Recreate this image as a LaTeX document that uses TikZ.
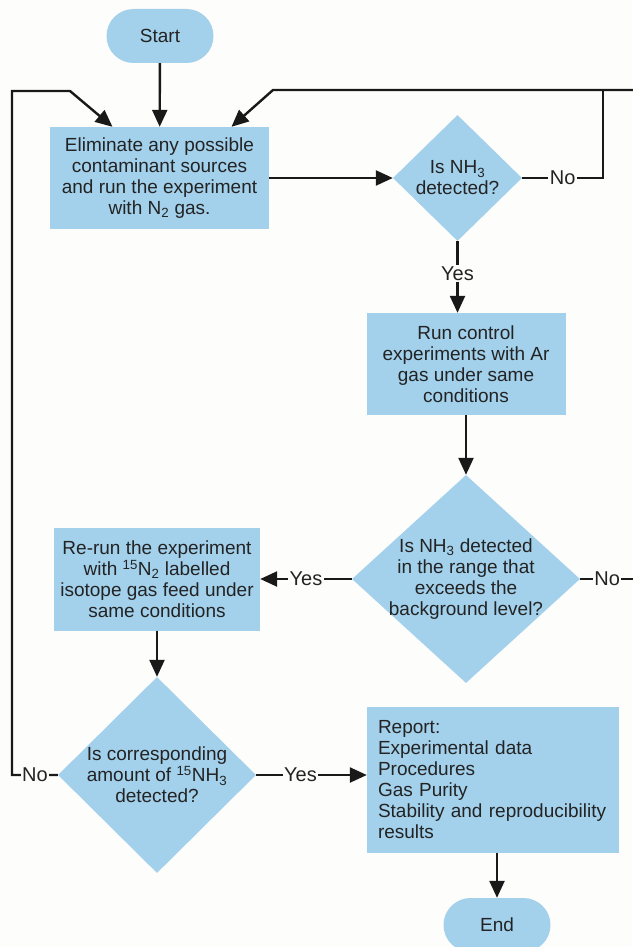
\documentclass[tikz,border=0pt]{standalone}
\usepackage{fontspec}
\setmainfont{Liberation Sans}
\usetikzlibrary{shapes.geometric,arrows.meta}
\definecolor{flowblue}{RGB}{163,209,236}
\definecolor{flowtext}{RGB}{35,35,35}
\definecolor{flowbg}{RGB}{253,253,251}

\begin{document}
\begin{tikzpicture}[x=1pt, y=-1pt,
    every node/.style={font=\fontsize{19}{21}\selectfont, text=flowtext},
    terminal/.style={fill=flowblue, rounded corners=27pt, minimum width=107pt, minimum height=54pt, inner sep=0pt},
    process/.style={fill=flowblue, align=center, inner sep=0pt},
    decision/.style={diamond, fill=flowblue, inner sep=0pt},
    flowline/.style={line width=2.4pt, draw=black!90},
    arr/.style={flowline, -{Triangle[length=17pt, width=15pt]}},
    lbl/.style={fill=flowbg, inner sep=1.5pt, font=\fontsize{20}{22}\selectfont}
]
    % Page and background
    \useasboundingbox (0,0) rectangle (632,947);
    \fill[flowbg] (0,0) rectangle (632,947);

    % Start and first run
    \node[terminal] (start) at (160,36) {Start};
    \node[process, minimum width=219pt, minimum height=102pt] (elim) at (159.5,178)
        {Eliminate any possible\\contaminant sources\\and run the experiment\\with N\textsubscript{2} gas.};

    % First check
    \node[decision, minimum width=129pt, minimum height=126pt] (det1) at (457.5,178) {};
    \node[align=center] (det1txt) at (det1) {Is NH\textsubscript{3}\\detected?};

    % Control run with Ar
    \node[process, minimum width=199pt, minimum height=102pt] (ctrl) at (466,364)
        {Run control\\experiments with Ar\\gas under same\\conditions};

    % Background check
    \node[decision, minimum width=228pt, minimum height=208pt] (det2) at (466,579) {};
    \node[align=center] (det2txt) at (det2)
        {Is NH\textsubscript{3} detected\\in the range that\\exceeds the\\background level?};

    % Isotope run
    \node[process, minimum width=206pt, minimum height=103pt] (rerun) at (157,579)
        {Re-run the experiment\\with \textsuperscript{15}N\textsubscript{2} labelled\\isotope gas feed under\\same conditions};

    % Isotope check
    \node[decision, minimum width=198pt, minimum height=196pt] (det3) at (157,775) {};
    \node[align=center] (det3txt) at (det3)
        {Is corresponding\\amount of \textsuperscript{15}NH\textsubscript{3}\\detected?};

    % Report and end
    \node[process, minimum width=252pt, minimum height=146pt, align=left, text width=230pt] (report) at (493,780)
        {Report:\\Experimental data\\Procedures\\Gas Purity\\Stability and reproducibility\\results};
    \node[terminal] (end) at (497,925) {End};

    % Loop corners
    \coordinate (topR) at (634,90);
    \coordinate (loopR) at (603,90);
    \coordinate (bendR) at (273,90);
    \coordinate (loopL) at (12,91);
    \coordinate (bendL) at (70,91);

    % Main flow
    \draw[arr] (start) -- (elim);
    \draw[arr] (elim) -- (det1);
    \draw[arr] (det1.south) -- node[lbl, pos=0.45]{Yes} (det1.south |- ctrl.north);
    \draw[arr] (ctrl) -- (det2);
    \draw[arr] (det2.west) -- node[lbl]{Yes} (rerun.east);
    \draw[arr] (rerun) -- (det3);
    \draw[arr] (det3.east) -- node[lbl, pos=0.4]{Yes} (det3.east -| report.west);
    \draw[arr] (report.south -| end) -- (end);

    % No branches back to the start box
    \draw[flowline] (det1.east) -- node[lbl]{No} (det1.east -| loopR) -- (loopR);
    \draw[flowline] (det2.east) -- node[lbl]{No} (det2.east -| topR) -- (topR);
    \draw[arr] (topR) -- (bendR) -- ([xshift=72pt]elim.north);
    \draw[arr] (det3.west) -- node[lbl]{No} (det3.west -| loopL) -- (loopL) -- (bendL) -- ([xshift=-47pt]elim.north);
\end{tikzpicture}
\end{document}
